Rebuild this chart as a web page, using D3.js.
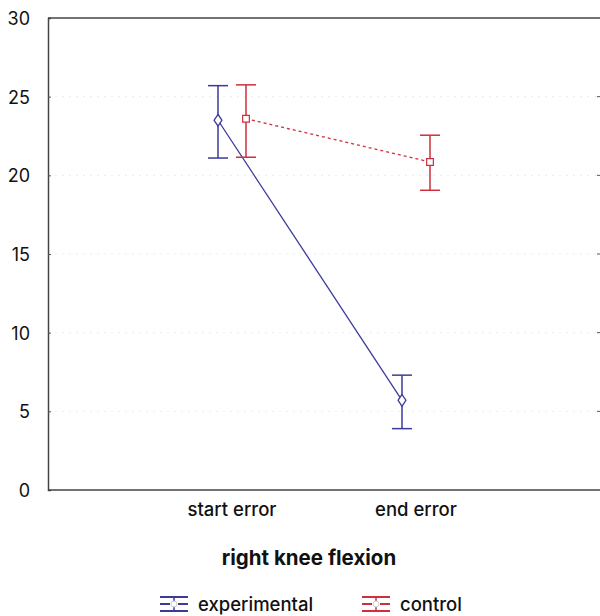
<!DOCTYPE html>
<html><head><meta charset="utf-8">
<script src="https://cdn.jsdelivr.net/npm/d3@7"></script>
<style>body{margin:0;background:#fff}svg{display:block}text{font-family:Inter,"Noto Sans",sans-serif;fill:#111}</style>
</head><body><svg id="c" width="600" height="616"></svg>
<script>
const categories = ["start error", "end error"];
const seriesNames = ["experimental", "control"];
const expMean = [23.5, 5.7];
const expUpper = [25.7, 7.3];
const expLower = [21.1, 3.9];
const ctlMean = [23.6, 20.85];
const ctlUpper = [25.75, 22.55];
const ctlLower = [21.15, 19.05];
const yTicks = [0, 5, 10, 15, 20, 25, 30];
const colors = {experimental: "#3b3b9a", control: "#cf2f3c"};

const svg = d3.select("#c");
const m = {l: 48, t: 18, r: 0, b: 126};
const W = 600, H = 616;
const x = d3.scalePoint().domain(categories).range([m.l, W - m.r]).padding(1);
const y = d3.scaleLinear().domain([0, 30]).range([H - m.b, m.t]);

// gridlines
svg.append("g").selectAll("line").data(yTicks.filter(d => d > 0 && d < 30)).join("line")
  .attr("x1", m.l).attr("x2", W).attr("y1", d => y(d)).attr("y2", d => y(d))
  .attr("stroke", "#ededed").attr("stroke-dasharray", "2,5").attr("stroke-width", 1);

// frame
svg.append("line").attr("x1", m.l).attr("x2", W).attr("y1", y(30)).attr("y2", y(30)).attr("stroke", "#444").attr("stroke-width", 1.5);
svg.append("line").attr("x1", m.l).attr("x2", W).attr("y1", y(0)).attr("y2", y(0)).attr("stroke", "#444").attr("stroke-width", 1.5);

// y axis
const ya = svg.append("g").attr("transform", `translate(${m.l},0)`)
  .call(d3.axisLeft(y).tickValues(yTicks).tickSize(-3).tickPadding(18));
ya.select(".domain").attr("stroke", "#444").attr("stroke-width", 1.5);
ya.selectAll(".tick line").attr("stroke", "#555");
ya.selectAll("text").style("font-size", "18px").style("fill", "#111").attr("dy", "0.36em");
ya.selectAll(".tick").filter(d => d === 0 || d === 30).select("line").remove();

// right ticks
svg.append("g").selectAll("line").data(yTicks.filter(d => d > 0 && d < 30)).join("line")
  .attr("x1", W - 3).attr("x2", W).attr("y1", d => y(d)).attr("y2", d => y(d)).attr("stroke", "#555");

// x labels
svg.append("g").selectAll("text").data(categories).join("text")
  .attr("x", d => x(d)).attr("y", 516).attr("text-anchor", "middle")
  .style("font-size", "18.5px").style("font-weight", "500").text(d => d);

svg.append("text").attr("x", 309).attr("y", 565).attr("text-anchor", "middle")
  .style("font-size", "20.5px").style("font-weight", "700").text("right knee flexion");

const series = [
  {name: "experimental", mean: expMean, up: expUpper, lo: expLower, off: -14, dash: null, marker: "diamond"},
  {name: "control", mean: ctlMean, up: ctlUpper, lo: ctlLower, off: 14, dash: "3,3", marker: "square"}
];
const cap = 10;
series.forEach(s => {
  const c = colors[s.name];
  const g = svg.append("g");
  const pts = categories.map((cat, i) => ({x: x(cat) + s.off, m: s.mean[i], u: s.up[i], l: s.lo[i]}));
  g.append("path").datum(pts).attr("fill", "none").attr("stroke", c).attr("stroke-width", 1.3)
    .attr("stroke-dasharray", s.dash).attr("d", d3.line().x(d => d.x).y(d => y(d.m)));
  pts.forEach(p => {
    g.append("line").attr("x1", p.x).attr("x2", p.x).attr("y1", y(p.u)).attr("y2", y(p.l)).attr("stroke", c).attr("stroke-width", 1.5);
    [p.u, p.l].forEach(v => g.append("line").attr("x1", p.x - cap).attr("x2", p.x + cap).attr("y1", y(v)).attr("y2", y(v)).attr("stroke", c).attr("stroke-width", 1.5));
    const sym = s.marker === "diamond" ? d3.symbolDiamond : d3.symbolSquare;
    g.append("path").attr("d", d3.symbol().type(sym).size(s.marker === "diamond" ? 40 : 45)())
      .attr("transform", `translate(${p.x},${y(p.m)})` + (s.marker === "diamond" ? " scale(1.15,1)" : ""))
      .attr("fill", "#fff").attr("stroke", c).attr("stroke-width", 1.2);
  });
});

// legend
const leg = [{name: "experimental", x: 160}, {name: "control", x: 362}];
leg.forEach(l => {
  const c = colors[l.name];
  const g = svg.append("g").attr("transform", `translate(${l.x},604)`);
  g.append("line").attr("x1", 0).attr("x2", 28).attr("y1", -7).attr("y2", -7).attr("stroke", c).attr("stroke-width", 2);
  g.append("line").attr("x1", 0).attr("x2", 28).attr("y1", 7).attr("y2", 7).attr("stroke", c).attr("stroke-width", 2);
  g.append("line").attr("x1", 0).attr("x2", 10).attr("y1", 0).attr("y2", 0).attr("stroke", c).attr("stroke-width", 2);
  g.append("line").attr("x1", 18).attr("x2", 28).attr("y1", 0).attr("y2", 0).attr("stroke", c).attr("stroke-width", 2);
  g.append("line").attr("x1", 14).attr("x2", 14).attr("y1", -7).attr("y2", 7).attr("stroke", c).attr("stroke-width", 1.5);
  g.append("circle").attr("cx", 14).attr("cy", 0).attr("r", 3).attr("fill", "#fff").attr("stroke", "#ccc").attr("stroke-width", 1);
  g.append("text").attr("x", 38).attr("y", 7).style("font-size", "18.5px").style("font-weight", "500").text(l.name);
});
</script></body></html>
